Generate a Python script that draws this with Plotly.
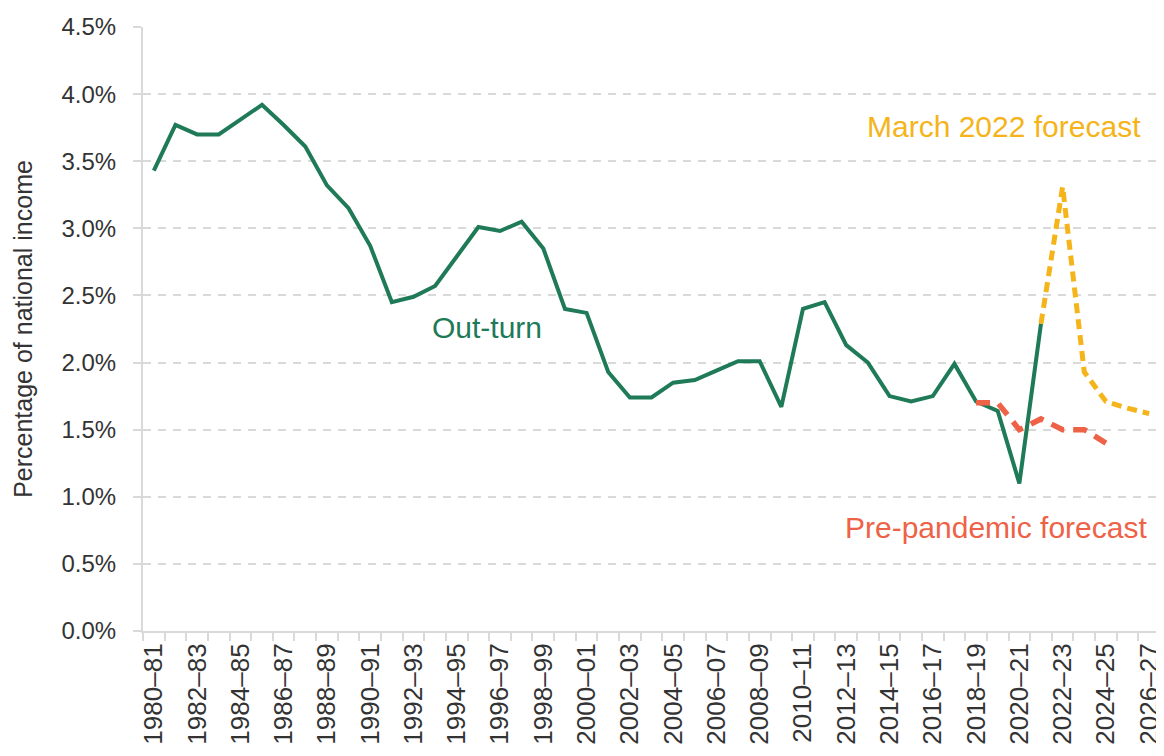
import plotly.graph_objects as go

# fiscal years 1980-81 .. 2026-27
years = [f"{y}\u2013{(y + 1) % 100:02d}" for y in range(1980, 2027)]

outturn = [3.43, 3.77, 3.70, 3.70, 3.81, 3.92, 3.77, 3.61, 3.32, 3.15,
           2.87, 2.45, 2.49, 2.57, 2.79, 3.01, 2.98, 3.05, 2.85, 2.40,
           2.37, 1.93, 1.74, 1.74, 1.85, 1.87, 1.94, 2.01, 2.01, 1.67,
           2.40, 2.45, 2.13, 2.00, 1.75, 1.71, 1.75, 1.99, 1.71, 1.64,
           1.10, 2.29]
march_2022 = [2.29, 3.31, 1.93, 1.71, 1.66, 1.62]          # 2021-22 .. 2026-27
pre_pandemic = [1.70, 1.70, 1.50, 1.58, 1.50, 1.50, 1.40]   # 2018-19 .. 2024-25

y_ticks = [0, 0.5, 1.0, 1.5, 2.0, 2.5, 3.0, 3.5, 4.0, 4.5]

GREEN = '#1f7a58'
YELLOW = '#f4b41a'
RED = '#ee6247'
GRID = '#d9d9d9'
FONT = 'Liberation Sans, Arial, sans-serif'

idx = list(range(len(years)))
i_march = years.index('2021\u201322')
i_pre = years.index('2018\u201319')

fig = go.Figure()

fig.add_trace(go.Scatter(
    x=idx[:len(outturn)], y=outturn, mode='lines',
    line=dict(color=GREEN, width=4), name='Out-turn', hoverinfo='skip',
))
fig.add_trace(go.Scatter(
    x=idx[i_march:i_march + len(march_2022)], y=march_2022, mode='lines',
    line=dict(color=YELLOW, width=5, dash='10px,6px'),
    name='March 2022 forecast', hoverinfo='skip',
))
fig.add_trace(go.Scatter(
    x=idx[i_pre:i_pre + len(pre_pandemic)], y=pre_pandemic, mode='lines',
    line=dict(color=RED, width=5.5, dash='14px,9px'),
    name='Pre-pandemic forecast', hoverinfo='skip',
))

# series labels
labels = [
    (15.4, 2.26, 'Out-turn', GREEN),
    (39.3, 3.76, 'March 2022 forecast', YELLOW),
    (38.9, 0.77, 'Pre-pandemic forecast', RED),
]
for x, y, txt, clr in labels:
    fig.add_annotation(x=x, y=y, text=txt, showarrow=False,
                       font=dict(color=clr, size=30, family=FONT))

# page body has an 8px margin, so the figure is sized to fit the window
fig.update_layout(
    width=1156, height=748,
    margin=dict(l=135, r=4, t=19, b=125),
    paper_bgcolor='white', plot_bgcolor='white',
    showlegend=False,
    font=dict(family=FONT, color='#333333'),
    xaxis=dict(
        range=[-0.5, len(years) - 0.5], automargin=False,
        tickmode='array', tickvals=idx[::2], ticktext=years[::2],
        tickangle=-90, ticks='', tickfont=dict(size=26, color='#333333'),
        showgrid=False, zeroline=False,
        showline=True, linecolor=GRID, linewidth=2,
        minor=dict(ticks='outside', tick0=-0.5, dtick=1, ticklen=8,
                   tickcolor=GRID, tickwidth=2, showgrid=False),
    ),
    yaxis=dict(
        range=[0, 4.5], automargin=False,
        tickmode='array', tickvals=y_ticks,
        ticktext=[f'{v:.1f}%' for v in y_ticks],
        tickfont=dict(size=24, color='#333333'),
        ticks='outside', ticklen=8, tickcolor=GRID, tickwidth=2,
        ticklabelstandoff=12,
        showgrid=True, gridcolor=GRID, gridwidth=2, griddash='8px,7px',
        zeroline=False,
        showline=True, linecolor=GRID, linewidth=2,
        title=dict(text='Percentage of national income',
                   font=dict(size=25, color='#333333'), standoff=22),
    ),
)

fig.write_html('out.html')
